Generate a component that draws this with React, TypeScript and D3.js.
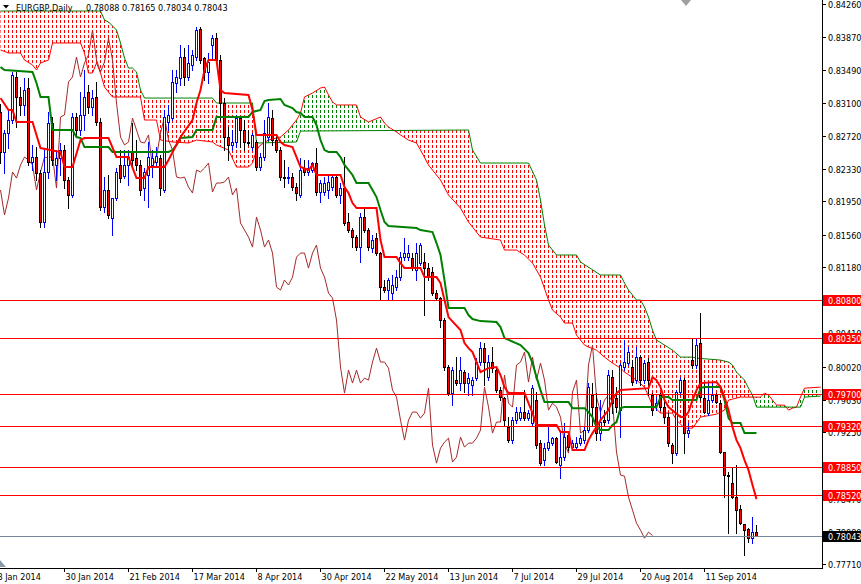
import React from 'react';
import * as d3 from 'd3';

const W = 861;
const H = 584;
const PLOT_R = 822;
const PLOT_B = 568;
const FONT = "'DejaVu Sans Condensed', 'Liberation Sans', sans-serif";

const dateLabels = ['8 Jan 2014', '30 Jan 2014', '21 Feb 2014', '17 Mar 2014', '8 Apr 2014', '30 Apr 2014', '22 May 2014', '13 Jun 2014', '7 Jul 2014', '29 Jul 2014', '20 Aug 2014', '11 Sep 2014'];
const dateLabelBars = [-1, 16, 32, 48, 64, 80, 96, 112, 128, 144, 160, 176];

const priceTicks = [0.8426, 0.8387, 0.8349, 0.831, 0.8272, 0.8233, 0.8195, 0.8156, 0.8118, 0.808, 0.8041, 0.8002, 0.7963, 0.7925, 0.7886, 0.7847, 0.7808, 0.7771];
const levels = [0.808, 0.8035, 0.797, 0.7932, 0.7885, 0.7852];
const lastPrice = 0.78043;

const open = [
0.82997,0.82529,0.82751,0.82903,0.83406,0.83172,0.83079,0.83277,0.82412,0.82470,
0.82283,0.81710,0.82295,0.82868,0.82377,0.82458,0.82552,0.82201,0.82026,0.82938,
0.82786,0.82962,0.83231,0.83055,0.83172,0.82880,0.81885,0.82084,0.81756,0.81990,
0.82377,0.82248,0.82377,0.82529,0.82458,0.82377,0.82107,0.82260,0.82377,0.82412,
0.82458,0.82084,0.82880,0.82926,0.83336,0.83394,0.83640,0.83406,0.83547,0.83640,
0.83968,0.83628,0.83465,0.83781,0.83862,0.83605,0.83102,0.82704,0.82611,0.82646,
0.82926,0.82786,0.82646,0.82587,0.82646,0.82353,0.82470,0.82704,0.82926,0.82669,
0.82552,0.82236,0.82224,0.82236,0.82119,0.82026,0.82341,0.82295,0.82318,0.82400,
0.82061,0.82061,0.82084,0.82119,0.82236,0.82026,0.82107,0.81710,0.81616,0.81534,
0.81417,0.81768,0.81616,0.81405,0.81522,0.81347,0.80949,0.80914,0.80879,0.80949,
0.81066,0.81300,0.81300,0.81288,0.81148,0.81230,0.81242,0.81171,0.81125,0.80879,
0.80820,0.80563,0.80013,0.79709,0.79861,0.79826,0.79955,0.79826,0.79803,0.79884,
0.80072,0.80235,0.79896,0.80072,0.79978,0.79744,0.79650,0.79311,0.79159,0.79393,
0.79416,0.79487,0.79416,0.79358,0.79627,0.79124,0.78925,0.79065,0.79124,0.79182,
0.78867,0.78960,0.79218,0.79077,0.79077,0.79124,0.79159,0.79276,0.79686,0.79545,
0.79241,0.79393,0.79393,0.79896,0.79650,0.79510,0.80013,0.80060,0.80013,0.79861,
0.80130,0.79861,0.80072,0.79686,0.79569,0.79686,0.79545,0.79428,0.79101,0.79007,
0.79721,0.79861,0.79241,0.80095,0.80037,0.80294,0.79650,0.79475,0.79627,0.79686,
0.79592,0.79019,0.78750,0.78656,0.78492,0.78352,0.78176,0.78118,0.78012,0.78088
];
const high = [
0.83090,0.82786,0.83020,0.83465,0.83465,0.83289,0.83394,0.83394,0.82611,0.82587,
0.82318,0.82552,0.82997,0.82938,0.82552,0.82634,0.82611,0.82236,0.82985,0.82985,
0.83231,0.83488,0.83313,0.83254,0.83348,0.82926,0.82236,0.82260,0.81990,0.82341,
0.82552,0.82552,0.82552,0.82868,0.82669,0.82435,0.82341,0.82646,0.82552,0.82587,
0.82494,0.83020,0.83079,0.83488,0.83488,0.83781,0.83745,0.83781,0.83722,0.83991,
0.83991,0.83640,0.83687,0.83898,0.83921,0.83664,0.83160,0.82821,0.82786,0.82962,
0.82938,0.82903,0.82786,0.82751,0.82669,0.82517,0.82903,0.83102,0.83020,0.82728,
0.82587,0.82435,0.82353,0.82283,0.82166,0.82458,0.82435,0.82435,0.82412,0.82575,
0.82201,0.82236,0.82260,0.82260,0.82260,0.82166,0.82470,0.81815,0.81639,0.81558,
0.81815,0.81873,0.81639,0.81558,0.81581,0.81359,0.81031,0.81054,0.81090,0.81148,
0.81359,0.81522,0.81441,0.81347,0.81464,0.81464,0.81347,0.81230,0.81183,0.80914,
0.80832,0.80586,0.80037,0.80013,0.80130,0.80130,0.79978,0.79943,0.79896,0.80118,
0.80306,0.80294,0.80154,0.80247,0.80013,0.79779,0.79662,0.79428,0.79428,0.79545,
0.79545,0.79744,0.79510,0.79803,0.79721,0.79159,0.79124,0.79311,0.79194,0.79194,
0.79253,0.79358,0.79253,0.79159,0.79194,0.79218,0.79311,0.79826,0.79826,0.79709,
0.79627,0.79510,0.79978,0.79978,0.79779,0.80060,0.80329,0.80247,0.80095,0.80247,
0.80154,0.80095,0.80118,0.79709,0.79662,0.79709,0.79627,0.79475,0.79124,0.79744,
0.79896,0.79884,0.79358,0.80352,0.80352,0.80645,0.79826,0.79826,0.79826,0.79709,
0.79627,0.79019,0.78785,0.78843,0.78867,0.78399,0.78176,0.78129,0.78258,0.78165
];
const low = [
0.82400,0.82283,0.82575,0.82868,0.82821,0.82962,0.82962,0.82377,0.82318,0.82201,
0.81651,0.81651,0.82224,0.82377,0.82201,0.82260,0.82107,0.81873,0.82002,0.82728,
0.82728,0.82786,0.82985,0.82962,0.82845,0.81850,0.81827,0.81756,0.81558,0.81967,
0.82178,0.82224,0.82143,0.82377,0.82318,0.82026,0.81967,0.81885,0.82236,0.82353,
0.82026,0.82061,0.82786,0.82903,0.83231,0.83313,0.83313,0.83371,0.83488,0.83605,
0.83570,0.83371,0.83336,0.83605,0.83582,0.82903,0.82552,0.82435,0.82552,0.82587,
0.82587,0.82552,0.82611,0.82552,0.82318,0.82318,0.82435,0.82669,0.82611,0.82529,
0.82201,0.82119,0.82166,0.82084,0.81967,0.82002,0.82260,0.82260,0.82295,0.82026,
0.81944,0.82026,0.81990,0.82084,0.82002,0.81932,0.81675,0.81593,0.81417,0.81382,
0.81242,0.81593,0.81382,0.81359,0.81324,0.80797,0.80891,0.80797,0.80797,0.80914,
0.81031,0.81265,0.81265,0.81148,0.81031,0.81207,0.80622,0.81031,0.80856,0.80797,
0.80481,0.79978,0.79686,0.79569,0.79803,0.79744,0.79721,0.79686,0.79686,0.79861,
0.80037,0.79803,0.79861,0.79955,0.79721,0.79627,0.79335,0.79136,0.79124,0.79358,
0.79393,0.79393,0.79393,0.79335,0.79065,0.78867,0.78867,0.79042,0.79101,0.78890,
0.78714,0.78925,0.79042,0.79042,0.79042,0.79101,0.79124,0.79253,0.79335,0.79159,
0.79159,0.79335,0.79358,0.79475,0.79487,0.79194,0.79978,0.80037,0.79803,0.79826,
0.79803,0.79826,0.79686,0.79452,0.79510,0.79510,0.79358,0.79089,0.78890,0.78984,
0.79686,0.79007,0.79194,0.80001,0.80001,0.79627,0.79475,0.79452,0.79604,0.79592,
0.79007,0.78492,0.78071,0.78480,0.78071,0.78176,0.77814,0.77966,0.77954,0.78034
];
const close = [
0.82529,0.82751,0.82903,0.83430,0.83172,0.83079,0.83254,0.82412,0.82470,0.82283,
0.81710,0.82295,0.82868,0.82435,0.82458,0.82552,0.82201,0.82026,0.82938,0.82786,
0.82962,0.83172,0.83055,0.83160,0.82880,0.81885,0.82084,0.81792,0.81990,0.82295,
0.82224,0.82377,0.82470,0.82435,0.82377,0.82084,0.82295,0.82470,0.82458,0.82482,
0.82107,0.82938,0.82962,0.83348,0.83406,0.83640,0.83406,0.83570,0.83664,0.83956,
0.83605,0.83465,0.83582,0.83862,0.83605,0.83102,0.82704,0.82611,0.82646,0.82926,
0.82786,0.82646,0.82634,0.82728,0.82353,0.82470,0.82751,0.82938,0.82669,0.82552,
0.82236,0.82224,0.82236,0.82119,0.82049,0.82318,0.82295,0.82341,0.82400,0.82061,
0.82166,0.82166,0.82178,0.82236,0.82026,0.82107,0.81698,0.81616,0.81534,0.81417,
0.81768,0.81616,0.81417,0.81499,0.81347,0.80949,0.80914,0.81031,0.80973,0.81066,
0.81300,0.81347,0.81347,0.81171,0.81347,0.81441,0.81171,0.81066,0.80879,0.80820,
0.80563,0.80013,0.79709,0.79978,0.79826,0.79978,0.79826,0.79884,0.79861,0.80072,
0.80235,0.80072,0.80072,0.80001,0.79744,0.79662,0.79393,0.79159,0.79393,0.79487,
0.79487,0.79416,0.79475,0.79767,0.79101,0.78890,0.79065,0.79136,0.79182,0.78902,
0.78960,0.79194,0.79077,0.79124,0.79124,0.79182,0.79276,0.79779,0.79545,0.79241,
0.79370,0.79370,0.79920,0.79592,0.79545,0.80037,0.80072,0.80189,0.79838,0.80130,
0.79861,0.80060,0.79861,0.79510,0.79592,0.79545,0.79428,0.79124,0.79007,0.79721,
0.79861,0.79241,0.79276,0.80037,0.80271,0.79662,0.79487,0.79627,0.79686,0.79604,
0.79019,0.78750,0.78738,0.78492,0.78340,0.78188,0.78106,0.78012,0.78083,0.78043
];

// Ichimoku lines: [bar index, price]
const tenkan: [number, number][] = [
[0,0.83160],[2,0.83020],[3,0.83020],[4,0.82880],[8,0.82880],[10,0.82575],[15,0.82529],[16,0.82353],[18,0.82353],[20,0.82669],[21,0.82692],[27,0.82692],[29,0.82470],[32,0.82470],[34,0.82224],[36,0.82224],[37,0.82353],[41,0.82353],[42,0.82435],[45,0.82704],[48,0.82903],[49,0.83102],[50,0.83254],[51,0.83488],[52,0.83605],[54,0.83605],[55,0.83254],[56,0.83219],[62,0.83196],[63,0.83020],[64,0.82728],[69,0.82728],[70,0.82646],[71,0.82611],[73,0.82587],[74,0.82470],[75,0.82353],[77,0.82318],[78,0.82377],[79,0.82260],[85,0.82260],[86,0.82119],[87,0.82049],[88,0.81932],[89,0.81873],[94,0.81873],[95,0.81499],[96,0.81300],[99,0.81300],[100,0.81230],[101,0.81171],[105,0.81171],[106,0.81066],[109,0.81066],[110,0.80996],[111,0.80797],[112,0.80598],[115,0.80446],[116,0.80294],[117,0.80235],[118,0.80189],[119,0.80072],[120,0.79955],[122,0.80001],[124,0.80013],[125,0.79920],[126,0.79779],[127,0.79709],[131,0.79709],[132,0.79592],[133,0.79475],[134,0.79335],[139,0.79335],[140,0.79253],[142,0.79253],[143,0.79042],[146,0.79042],[147,0.79159],[148,0.79241],[149,0.79311],[150,0.79393],[152,0.79510],[153,0.79627],[154,0.79709],[155,0.79744],[162,0.79767],[163,0.79896],[164,0.79861],[165,0.79779],[166,0.79627],[167,0.79545],[170,0.79428],[171,0.79428],[172,0.79487],[173,0.79627],[174,0.79744],[175,0.79826],[179,0.79838],[180,0.79779],[181,0.79662],[182,0.79510],[183,0.79311],[184,0.79159],[185,0.79065],[186,0.78925],[187,0.78808],[188,0.78633],[189,0.78469]
];
const kijun: [number, number][] = [
[0,0.83523],[1,0.83488],[8,0.83465],[9,0.83336],[10,0.83172],[12,0.83172],[13,0.82786],[18,0.82786],[19,0.82704],[20,0.82692],[21,0.82587],[27,0.82587],[28,0.82529],[42,0.82529],[43,0.82552],[44,0.82611],[45,0.82692],[48,0.82704],[49,0.82786],[53,0.82786],[54,0.82938],[62,0.82938],[63,0.82997],[65,0.83020],[66,0.83125],[67,0.83137],[70,0.83149],[71,0.83079],[73,0.83043],[74,0.82997],[75,0.82985],[76,0.82938],[78,0.82938],[79,0.82845],[80,0.82669],[81,0.82552],[82,0.82529],[84,0.82529],[85,0.82470],[86,0.82377],[88,0.82260],[89,0.82166],[92,0.82166],[93,0.82084],[94,0.82002],[95,0.81850],[96,0.81710],[97,0.81663],[104,0.81639],[105,0.81616],[108,0.81593],[109,0.81464],[110,0.81324],[111,0.81031],[112,0.80703],[116,0.80703],[117,0.80622],[118,0.80575],[120,0.80551],[124,0.80540],[125,0.80481],[126,0.80352],[130,0.80271],[132,0.80177],[133,0.80060],[134,0.79896],[135,0.79744],[136,0.79604],[142,0.79604],[143,0.79533],[146,0.79533],[147,0.79487],[148,0.79428],[149,0.79311],[150,0.79276],[152,0.79276],[153,0.79335],[154,0.79370],[155,0.79533],[156,0.79545],[164,0.79545],[165,0.79662],[167,0.79662],[168,0.79627],[174,0.79627],[175,0.79767],[176,0.79779],[180,0.79779],[181,0.79627],[182,0.79416],[183,0.79358],[185,0.79358],[186,0.79241],[189,0.79241]
];
const spanA: [number, number][] = [
[0,0.83722],[2,0.83687],[5,0.83687],[6,0.83605],[8,0.83547],[9,0.83488],[10,0.83570],[12,0.83605],[13,0.83804],[20,0.83804],[21,0.83687],[22,0.83453],[23,0.83453],[24,0.83570],[25,0.83453],[26,0.83289],[28,0.83172],[35,0.83172],[36,0.82903],[39,0.82903],[40,0.82669],[43,0.82646],[47,0.82634],[49,0.82669],[53,0.82646],[54,0.82611],[57,0.82552],[59,0.82353],[62,0.82353],[63,0.82400],[64,0.82552],[65,0.82611],[67,0.82669],[70,0.82704],[72,0.82786],[74,0.82903],[75,0.82985],[76,0.83172],[78,0.83219],[80,0.83277],[81,0.83289],[82,0.83196],[83,0.83114],[84,0.83079],[89,0.83079],[90,0.82938],[92,0.82880],[95,0.82938],[96,0.82868],[97,0.82821],[99,0.82763],[100,0.82728],[102,0.82669],[104,0.82634],[105,0.82552],[107,0.82377],[110,0.82201],[112,0.82026],[115,0.81873],[117,0.81710],[120,0.81534],[125,0.81499],[126,0.81382],[129,0.81382],[131,0.81324],[133,0.81230],[135,0.81066],[137,0.80797],[138,0.80680],[140,0.80598],[141,0.80528],[143,0.80528],[144,0.80388],[146,0.80271],[147,0.80247],[149,0.80212],[151,0.80130],[153,0.80060],[155,0.80001],[156,0.79955],[159,0.79861],[161,0.79779],[163,0.79568],[165,0.79475],[168,0.79475],[169,0.79393],[171,0.79299],[173,0.79299],[175,0.79428],[179,0.79463],[181,0.79510],[182,0.79627],[185,0.79662],[190,0.79662],[191,0.79709],[192,0.79686],[193,0.79627],[194,0.79568],[196,0.79568],[197,0.79510],[198,0.79533],[199,0.79545],[200,0.79662],[201,0.79767],[205,0.79779]
];
const spanB: [number, number][] = [
[0,0.84178],[25,0.84178],[26,0.84073],[27,0.84050],[29,0.83956],[30,0.83804],[31,0.83628],[32,0.83511],[33,0.83511],[34,0.83465],[35,0.83254],[36,0.83160],[53,0.83160],[54,0.83102],[63,0.83102],[64,0.82634],[74,0.82646],[75,0.82774],[117,0.82786],[118,0.82552],[120,0.82400],[132,0.82400],[134,0.82201],[135,0.81967],[136,0.81675],[137,0.81441],[139,0.81324],[144,0.81324],[145,0.81242],[150,0.81090],[155,0.81090],[156,0.80996],[157,0.80914],[159,0.80797],[160,0.80797],[161,0.80715],[162,0.80598],[163,0.80446],[164,0.80329],[166,0.80271],[168,0.80212],[170,0.80130],[173,0.80130],[174,0.80118],[180,0.80095],[182,0.80072],[183,0.80037],[184,0.79955],[186,0.79861],[187,0.79767],[188,0.79686],[189,0.79545],[200,0.79545],[201,0.79662],[205,0.79674]
];

export default function App() {
  const x = d3.scaleLinear().domain([0, 1]).range([0, 4]);
  const y = d3.scaleLinear().domain([0.7771, 0.8426]).range([564, 4]);
  const px = (b: number) => x(b) + 0.5;
  const lineGen = d3.line<[number, number]>().x(d => px(d[0])).y(d => y(d[1]));

  const chikou: [number, number][] = close.slice(26).map((c, i) => [i, c]);

  const aPath = lineGen(spanA) as string;
  const bRev = (lineGen([...spanB].reverse()) as string).replace(/^M/, 'L');
  const between = aPath + bRev + 'Z';
  const lastA = spanA[spanA.length - 1][0];
  const aboveA = aPath + `L${px(lastA)},-20L${px(0) - 10},-20L${px(0) - 10},${y(spanA[0][1])}Z`;
  const belowA = aPath + `L${px(lastA)},${H + 20}L${px(0) - 10},${H + 20}L${px(0) - 10},${y(spanA[0][1])}Z`;

  const yr = (v: number) => Math.round(y(v));

  return (
    <svg width={W} height={H} style={{ position: 'absolute', left: 0, top: 0, background: '#fff' }} fontFamily={FONT}>
      <defs>
        <clipPath id="plotClip"><rect x={0} y={0} width={PLOT_R} height={PLOT_B} /></clipPath>
        <clipPath id="clipAbove"><path d={aboveA} /></clipPath>
        <clipPath id="clipBelow"><path d={belowA} /></clipPath>
        <pattern id="redDots" width={4} height={5} patternUnits="userSpaceOnUse">
          <rect x={0} y={0} width={1} height={3} fill="#ff0000" />
        </pattern>
        <pattern id="greenDots" width={4} height={5} patternUnits="userSpaceOnUse">
          <rect x={0} y={0} width={1} height={3} fill="#008000" />
        </pattern>
      </defs>
      <rect x={0} y={0} width={W} height={H} fill="#fff" />
      <g clipPath="url(#plotClip)">
        <g clipPath="url(#clipAbove)"><path d={between} fill="url(#redDots)" /></g>
        <g clipPath="url(#clipBelow)"><path d={between} fill="url(#greenDots)" /></g>
        <path d={lineGen(spanA) as string} fill="none" stroke="#ff0000" strokeWidth={1} />
        <path d={lineGen(spanB) as string} fill="none" stroke="#008000" strokeWidth={1} />
        <path d={lineGen(chikou) as string} fill="none" stroke="#a52a2a" strokeWidth={1} />
        {open.map((o, i) => {
          const c = close[i];
          const bull = c > o;
          const cx = Math.round(x(i));
          const yT = yr(Math.max(o, c));
          const yB = yr(Math.min(o, c));
          const wc = bull ? '#0000ff' : '#000000';
          return (
            <g key={i}>
              <line x1={cx + 0.5} x2={cx + 0.5} y1={yr(high[i])} y2={yr(low[i]) + 1} stroke={wc} />
              {yB - yT >= 1 ? (
                <rect x={cx - 0.5} y={yT + 0.5} width={2} height={yB - yT} fill={bull ? '#ffffff' : '#ff0000'} stroke={bull ? '#0000ff' : '#000000'} />
              ) : (
                <line x1={cx - 1} x2={cx + 2} y1={yT + 0.5} y2={yT + 0.5} stroke={wc} />
              )}
            </g>
          );
        })}
        <path d={lineGen(kijun) as string} fill="none" stroke="#008000" strokeWidth={2} />
        <path d={lineGen(tenkan) as string} fill="none" stroke="#ff0000" strokeWidth={2} />
        {levels.map((v, i) => (
          <line key={i} x1={0} x2={PLOT_R} y1={yr(v) + 0.5} y2={yr(v) + 0.5} stroke="#ff0000" />
        ))}
        <line x1={0} x2={PLOT_R} y1={yr(lastPrice) + 0.5} y2={yr(lastPrice) + 0.5} stroke="#778899" />
      </g>
      {/* axes */}
      <line x1={PLOT_R + 0.5} x2={PLOT_R + 0.5} y1={0} y2={PLOT_B + 1} stroke="#000" />
      <line x1={0} x2={PLOT_R + 1} y1={PLOT_B + 0.5} y2={PLOT_B + 0.5} stroke="#000" />
      {priceTicks.map((v, i) => (
        <g key={i}>
          <line x1={PLOT_R} x2={PLOT_R + 4} y1={yr(v) + 0.5} y2={yr(v) + 0.5} stroke="#000" />
          <text x={828} y={yr(v) + 0.5} dy="0.35em" fontSize={9} fill="#000">{v.toFixed(5)}</text>
        </g>
      ))}
      {levels.map((v, i) => (
        <g key={i}>
          <rect x={823} y={yr(v) - 5} width={W - 823} height={11} fill="#ff0000" />
          <text x={828} y={yr(v) + 0.5} dy="0.35em" fontSize={9} fill="#fff">{v.toFixed(5)}</text>
        </g>
      ))}
      <rect x={823} y={yr(lastPrice) - 5} width={W - 823} height={11} fill="#000" />
      <text x={828} y={yr(lastPrice) + 0.5} dy="0.35em" fontSize={9} fill="#fff">{lastPrice.toFixed(5)}</text>
      {dateLabels.map((t, i) => (
        <g key={i}>
          <line x1={px(dateLabelBars[i])} x2={px(dateLabelBars[i])} y1={PLOT_B} y2={PLOT_B + 4} stroke="#000" />
          <text x={px(dateLabelBars[i]) + 1} y={580} fontSize={9} fill="#000">{t}</text>
        </g>
      ))}
      {/* title */}
      <polygon points="3,5 9,5 6,8.5" fill="#000" />
      <text x={16} y={11} fontSize={9} fill="#000">EURGBP,Daily</text>
      <text x={86} y={11} fontSize={9} fill="#000">{`${open[189].toFixed(5)} ${high[189].toFixed(5)} ${low[189].toFixed(5)} ${close[189].toFixed(5)}`}</text>
      <polygon points="681,0 691,0 686,6" fill="#a0a0a0" />
      <polygon points="0,560 6,567 0,567" fill="#8a9aa8" />
    </svg>
  );
}
